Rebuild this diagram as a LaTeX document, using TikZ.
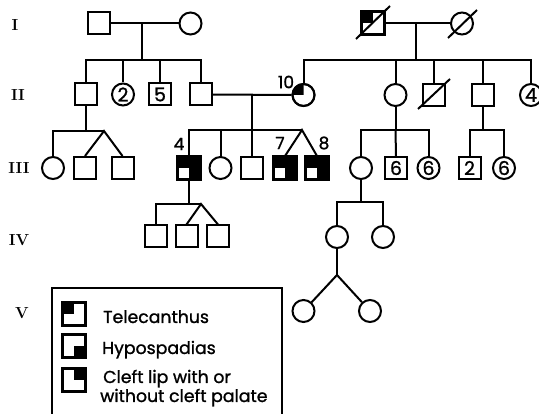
\documentclass[tikz,border=0pt]{standalone}
\usepackage{fontspec}
\newfontfamily\legfont{Poppins}[FakeBold=1.2]
\begin{document}
\begin{tikzpicture}[x=1pt,y=-1pt,
  sq/.style={draw,rectangle,minimum size=22pt,inner sep=0pt,line width=2pt,font=\legfont\fontsize{19}{19}\selectfont},
  ci/.style={draw,circle,minimum size=22pt,inner sep=0pt,line width=2pt,font=\legfont\fontsize{19}{19}\selectfont},
  gen/.style={font=\bfseries\fontsize{16}{16}\selectfont},
  num/.style={font=\legfont\fontsize{17}{17}\selectfont,inner sep=0pt},
  leg/.style={font=\legfont\fontsize{17.3}{17.3}\selectfont,anchor=base west,inner sep=0pt},
  ln/.style={line width=2pt}]
\clip (0,0) rectangle (539,414);
\fill[white] (0,0) rectangle (539,414);

% generation labels
\node[gen] (gI) at (15,25) {I};
\node[gen] (gII) at (18,95) {II};
\node[gen] (gIII) at (19,168) {III};
\node[gen] (gIV) at (19,240) {IV};
\node[gen] (gV) at (22,313) {V};

% Generation I
\node[sq] (I1) at (99,23.5) {};
\node[ci] (I2) at (190.5,23.5) {};
\node[sq] (I3) at (372.5,23.5) {};
\node[ci] (I4) at (462,23.5) {};
\fill (I3.center) rectangle (I3.north west);
\draw[ln] (I3.north west) rectangle (I3.south east);
\coordinate (s1) at (356,39); \coordinate (s2) at (390,6);
\draw[ln] (s1) -- (s2);
\coordinate (s3) at (448,38); \coordinate (s4) at (477,10);
\draw[ln] (s3) -- (s4);

\draw[ln] (I1) -- (I2);
\draw[ln] (I3) -- (I4);

% Generation II
\node[sq] (II1) at (86,94.5) {};
\node[ci] (II2) at (123,94.5) {2};
\node[sq] (II3) at (160,94.5) {5};
\node[sq] (II4) at (201,94.5) {};
\node[ci] (II5) at (303.5,95) {};
\node[ci] (II6) at (395.5,95) {};
\node[sq] (II7) at (434,95) {};
\node[sq] (II8) at (482.5,95) {};
\node[ci] (II9) at (531,95) {4};
\begin{scope}
  \clip (II5.center) rectangle ++(-14,-14);
  \fill (II5.center) circle[radius=11pt];
\end{scope}
\draw[ln] (II5.center) circle[radius=11pt];
\coordinate (s5) at (418,109); \coordinate (s6) at (450,79);
\draw[ln] (s5) -- (s6);
\node[num] (n10) at (286,82) {10};

% sibships of generation I
\coordinate (m1) at (142,23.5);
\coordinate (b1) at (142,60);
\draw[ln] (m1) -- (b1);
\draw[ln] (II1.north) |- (b1) -| (II4.north);
\draw[ln] (II2.north) -- (II2.north |- b1);
\draw[ln] (II3.north) -- (II3.north |- b1);
\coordinate (m2) at (416,23.5);
\coordinate (b2) at (416,60);
\draw[ln] (m2) -- (b2);
\draw[ln] (II5.north) |- (b2) -| (II9.north);
\draw[ln] (II6.north) -- (II6.north |- b2);
\draw[ln] (II7.north) -- (II7.north |- b2);
\draw[ln] (II8.north) -- (II8.north |- b2);

% mating II4 x II5
\draw[ln] (II4) -- (II5);

% Generation III
\node[ci] (III1) at (53,168) {};
\node[sq] (III2) at (85,168) {};
\node[sq] (III3) at (122.5,168) {};
\node[sq] (III4) at (189,168) {};
\node[ci] (III5) at (220.5,168) {};
\node[sq] (III6) at (251.5,168) {};
\node[sq] (III7) at (285,168) {};
\node[sq] (III8) at (317,168) {};
\node[ci] (III9) at (361,168) {};
\node[sq] (III10) at (396,168) {6};
\node[ci] (III11) at (428.5,168) {6};
\node[sq] (III12) at (469.5,168) {2};
\node[ci] (III13) at (504,168) {6};
\foreach \a in {III4,III7,III8}{
  \fill (\a.center) rectangle (\a.north west);
  \fill (\a.center) rectangle (\a.north east);
  \fill (\a.center) rectangle (\a.south east);
  \draw[ln] (\a.north west) rectangle (\a.south east);
}
\node[num] (n4) at (179,144) {4};
\node[num] (n7) at (280,143) {7};
\node[num] (n8) at (324,143) {8};

% sibship II1
\coordinate (b3) at (86,131);
\coordinate (t1) at (104,131);
\draw[ln] (II1.south) -- (b3);
\draw[ln] (III1.north) |- (t1);
\draw[ln] (III2.north) -- (t1) -- (III3.north);
% sibship II4 x II5
\coordinate (m3) at (252,95);
\coordinate (b4) at (252,130);
\coordinate (t2) at (302,130);
\draw[ln] (m3) -- (b4);
\draw[ln] (III4.north) |- (t2);
\draw[ln] (III5.north) -- (III5.north |- b4);
\draw[ln] (III6.north) -- (III6.north |- b4);
\draw[ln] (III7.north) -- (t2) -- (III8.north);
% sibship II6
\coordinate (b5) at (395.5,130);
\draw[ln] (II6.south) -- (b5);
\draw[ln] (III9.north) |- (b5) -| (III11.north);
\draw[ln] (III10.north) -- (b5);
% sibship II8
\coordinate (b6) at (482.5,130);
\draw[ln] (II8.south) -- (b6);
\draw[ln] (III12.north) |- (b6) -| (III13.north);

% Generation IV
\node[sq] (IV1) at (155.5,236.5) {};
\node[sq] (IV2) at (186.5,236.5) {};
\node[sq] (IV3) at (218,236.5) {};
\node[ci] (IV4) at (337,237) {};
\node[ci] (IV5) at (383,237) {};
\coordinate (t3) at (201,204);
\draw[ln] (III4.south) -- (III4.south |- t3);
\draw[ln] (IV1.north) |- (t3);
\draw[ln] (IV2.north) -- (t3) -- (IV3.north);
\coordinate (b7) at (361,202);
\draw[ln] (III9.south) -- (b7);
\draw[ln] (IV4.north) |- (b7) -| (IV5.north);

% Generation V
\node[ci] (V1) at (303.5,311) {};
\node[ci] (V2) at (370,311) {};
\coordinate (t4) at (337,275);
\draw[ln] (IV4.south) -- (t4);
\draw[ln] (V1) -- (t4) -- (V2);

% Legend
\draw[ln] (52,430) |- (282,288) -- (282,430);
\node[sq] (L1) at (74,314.5) {};
\node[sq] (L2) at (74,346.5) {};
\node[sq] (L3) at (74,380) {};
\fill (L1.center) rectangle (L1.north west);
\fill (L2.center) rectangle (L2.south east);
\fill (L3.center) rectangle (L3.north east);
\foreach \a in {L1,L2,L3}{\draw[ln] (\a.north west) rectangle (\a.south east);}
\node[leg] (T1) at (103,323) {Telecanthus};
\node[leg] (T2) at (102,354) {Hypospadias};
\node[leg] (T3) at (103,383) {Cleft lip with or};
\node[leg] (T4) at (100,402) {without cleft palate};
\end{tikzpicture}
\end{document}
